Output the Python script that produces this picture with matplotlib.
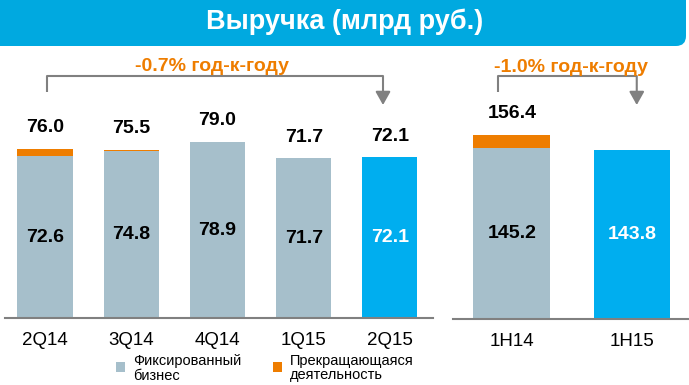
import matplotlib
matplotlib.use("Agg")
import matplotlib.pyplot as plt
from matplotlib.patches import FancyBboxPatch, Rectangle

plt.rcParams['font.family'] = ['Liberation Sans', 'DejaVu Sans']

# ---- data ----
title = "Выручка (млрд руб.)"
q_labels = ["2Q14", "3Q14", "4Q14", "1Q15", "2Q15"]
q_fixed = [72.6, 74.8, 78.9, 71.7, 72.1]
q_total = [76.0, 75.5, 79.0, 71.7, 72.1]
h_labels = ["1H14", "1H15"]
h_fixed = [145.2, 143.8]
h_total = [156.4, 143.8]
yoy_q = "-0.7% год-к-году"
yoy_h = "-1.0% год-к-году"
legend_labels = ["Фиксированный\nбизнес", "Прекращающаяся\nдеятельность"]

GRAY = "#A6BFCB"
ORANGE = "#EE7D00"
BLUE = "#00AEEF"
BANNER = "#00A9E0"
LINE = "#808080"

W, H = 689, 385
fig = plt.figure(figsize=(W / 100, H / 100), dpi=100)

def px_axes(x0, x1, ytop, ybot):
    return fig.add_axes([x0 / W, 1 - ybot / H, (x1 - x0) / W, (ybot - ytop) / H])

# banner
banner = FancyBboxPatch((-20, H - 46), W - 3 + 20, 80,
                        boxstyle="round,pad=0,rounding_size=10",
                        transform=None, facecolor=BANNER, edgecolor="none",
                        zorder=0)
fig.patches.append(banner)
fig.text(0.5, 1 - 22 / H, title, color="white", fontsize=19.5, fontweight="bold",
         ha="center", va="center")

def style(ax):
    for s in ["top", "right", "left"]:
        ax.spines[s].set_visible(False)
    ax.spines["bottom"].set_color(LINE)
    ax.spines["bottom"].set_linewidth(1.5)
    ax.set_yticks([])
    ax.tick_params(axis="x", length=0, labelsize=13.5, pad=10)
    ax.patch.set_alpha(0)

ARROW = dict(arrowstyle="-|>,head_length=0.8,head_width=0.45",
             color=LINE, lw=1.5, shrinkA=0, shrinkB=0)
VFS = 14

def bracket(ax, x0, x1, y_top, y_left, y_tip):
    ax.plot([x0, x0, x1], [y_left, y_top, y_top], color=LINE, lw=1.5,
            clip_on=False, solid_capstyle="butt")
    ax.annotate("", xy=(x1, y_tip), xytext=(x1, y_top),
                arrowprops=ARROW, annotation_clip=False)

# ---- left panel ----
axL = px_axes(5, 433, 46, 318)
pxu = 2.23
axL.set_ylim(0, (318 - 46) / pxu)
axL.set_xlim(-0.465, 4.5)
xs = list(range(len(q_labels)))
bw = 0.64
for i in xs:
    c = BLUE if i == len(xs) - 1 else GRAY
    axL.bar(i, q_fixed[i], width=bw, color=c)
    extra = q_total[i] - q_fixed[i]
    if extra > 0.05:
        axL.bar(i, extra, bottom=q_fixed[i], width=bw, color=ORANGE)
    axL.annotate(f"{q_total[i]:.1f}", (i, q_total[i]), xytext=(0, 9),
                 textcoords="offset points", ha="center", va="bottom",
                 fontsize=VFS, fontweight="bold")
    axL.text(i, q_fixed[i] / 2, f"{q_fixed[i]:.1f}", ha="center", va="center",
             fontsize=VFS, fontweight="bold",
             color="white" if i == len(xs) - 1 else "black")
axL.set_xticks(xs)
axL.set_xticklabels(q_labels)
style(axL)

bracket(axL, 0.02, 3.92, (318 - 76) / pxu, (318 - 92) / pxu, (318 - 105) / pxu)
axL.text(1.94, (318 - 67) / pxu, yoy_q, color=ORANGE, fontsize=14,
         fontweight="bold", ha="center", va="center", clip_on=False)

# ---- right panel ----
axR = px_axes(453, 689, 46, 319)
pxr = 1.178
axR.set_ylim(0, (319 - 46) / pxr)
axR.set_xlim(-0.49, 1.475)
hx = list(range(len(h_labels)))
for i in hx:
    c = BLUE if i == len(hx) - 1 else GRAY
    axR.bar(i, h_fixed[i], width=bw, color=c)
    extra = h_total[i] - h_fixed[i]
    if extra > 0.05:
        axR.bar(i, extra, bottom=h_fixed[i], width=bw, color=ORANGE)
        axR.annotate(f"{h_total[i]:.1f}", (i, h_total[i]), xytext=(0, 9),
                     textcoords="offset points", ha="center", va="bottom",
                     fontsize=VFS, fontweight="bold")
    axR.text(i, h_fixed[i] / 2, f"{h_fixed[i]:.1f}", ha="center", va="center",
             fontsize=VFS, fontweight="bold",
             color="white" if i == len(hx) - 1 else "black")
axR.set_xticks(hx)
axR.set_xticklabels(h_labels)
style(axR)

bracket(axR, -0.117, 1.04, (319 - 76) / pxr, (319 - 92) / pxr, (319 - 105) / pxr)
axR.text(0.49, (319 - 67) / pxr, yoy_h, color=ORANGE, fontsize=14,
         fontweight="bold", ha="center", va="center", clip_on=False)

# ---- legend ----
for (sx, col, lab) in [(116, GRAY, legend_labels[0]), (273, ORANGE, legend_labels[1])]:
    fig.patches.append(Rectangle((sx / W, 1 - 372 / H), 9 / W, 10 / H,
                                 transform=fig.transFigure, facecolor=col,
                                 edgecolor="none"))
    fig.text((sx + 17) / W, 1 - 368.5 / H, lab, fontsize=10.5, ha="left",
             va="center", linespacing=1.0)

fig.savefig("out.png", dpi=100)
